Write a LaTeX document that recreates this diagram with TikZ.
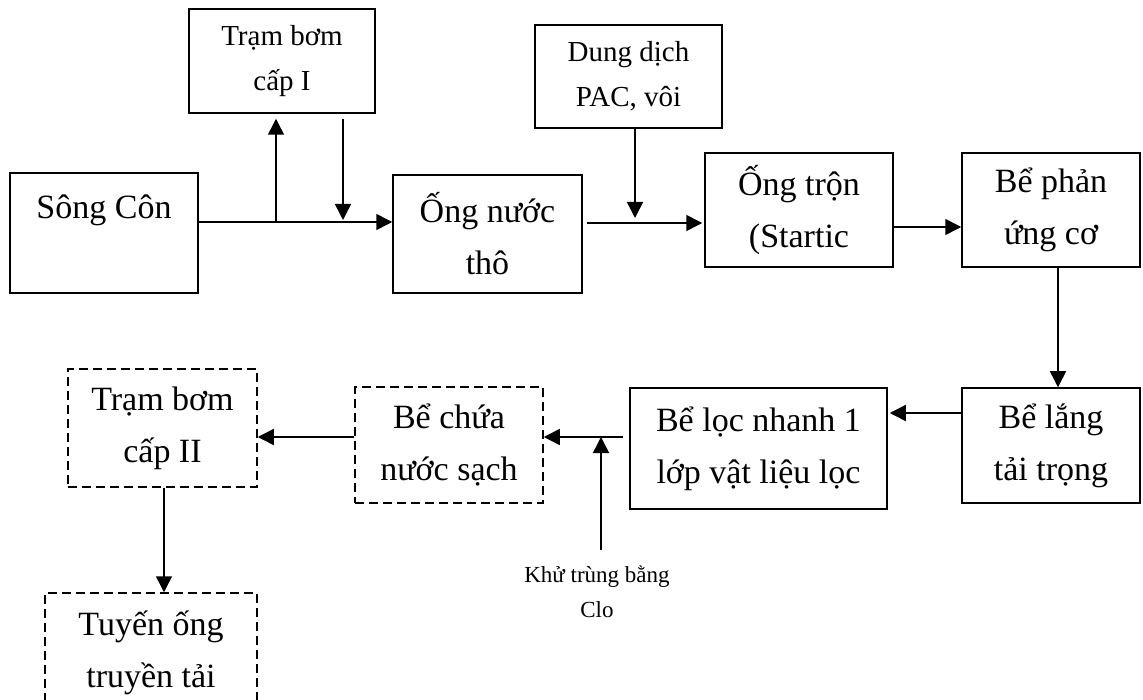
\documentclass[tikz,border=0pt]{standalone}
\usepackage{fontspec}
\setmainfont{Liberation Serif}
\usetikzlibrary{arrows.meta,calc}

\begin{document}
\begin{tikzpicture}[x=1pt,y=-1pt]
  \tikzset{block/.style = {draw, line width=1.5pt, inner sep=0pt, align=center, font=\fontsize{34}{52}\selectfont}}
  \tikzset{small/.style = {font=\fontsize{29}{45}\selectfont}}
  \tikzset{dblock/.style = {block, dash pattern=on 9pt off 5pt}}
  \tikzset{edge/.style = {line width=1.5pt, -{Triangle[length=16pt,width=16pt]}}}

  \clip (0,0) rectangle (1143,700);
  \useasboundingbox (0,0) rectangle (1143,700);

  % blocks
  \node[block, minimum width=188pt, minimum height=120pt] (song) at (104,233) {Sông Côn\\ \mbox{}};
  \node[block, small, minimum width=186pt, minimum height=104pt] (tram1) at (282,61) {Trạm bơm\\cấp I};
  \node[block, minimum width=189pt, minimum height=118pt] (ongtho) at (487.5,234) {Ống nước\\thô};
  \node[block, small, minimum width=187pt, minimum height=103pt] (pac) at (628.5,76.5) {Dung dịch\\PAC, vôi};
  \node[block, minimum width=188pt, minimum height=114pt] (ongtron) at (799,210) {Ống trộn\\(Startic};
  \node[block, minimum width=178pt, minimum height=114pt] (phanung) at (1051,210) {Bể phản\\ứng cơ};
  \node[block, minimum width=178pt, minimum height=115pt] (lang) at (1051,445.5) {Bể lắng\\tải trọng};
  \node[block, minimum width=257pt, minimum height=121pt] (loc) at (758.5,448.5) {Bể lọc nhanh 1\\lớp vật liệu lọc};
  \node[dblock, minimum width=188pt, minimum height=116pt] (chua) at (449,445) {Bể chứa\\nước sạch};
  \node[dblock, minimum width=189pt, minimum height=118pt] (tram2) at (162.5,428) {Trạm bơm\\cấp II};
  \node[dblock, minimum width=212pt, minimum height=120pt] (tuyen) at (151,653) {Tuyến ống\\truyền tải};
  \node[align=center, font=\fontsize{23}{35}\selectfont] (clo) at (597,592) {Khử trùng bằng\\Clo};

  % junctions
  \coordinate (j1) at (276,222);
  \coordinate (j2) at (343,222);
  \coordinate (j3) at (635,223);
  \coordinate (j4) at (930,227);
  \coordinate (j5) at (1058,330);
  \coordinate (j6) at (925,413);
  \coordinate (j7) at (601,437);
  \coordinate (j8) at (164,540);

  % edges
  \draw[edge] (song.east |- j1) -- (ongtho.west |- j1);
  \draw[edge, shorten >=5pt] (j1) -- (j1 |- tram1.south);
  \draw[edge, shorten <=5pt, shorten >=2pt] (j2 |- tram1.south) -- (j2);
  \draw[edge, shorten <=4pt, shorten >=2pt] (ongtho.east |- j3) -- (ongtron.west |- j3);
  \draw[edge, shorten >=5pt] (pac.south -| j3) -- (j3);
  \draw[edge] (ongtron.east |- j4) -- (phanung.west |- j4);
  \draw[edge] (phanung.south -| j5) -- (lang.north -| j5);
  \draw[edge, shorten >=2pt] (lang.west |- j6) -- (loc.east |- j6);
  \draw[edge, shorten <=6pt] (loc.west |- j7) -- (chua.east |- j7);
  \draw[edge, shorten <=13pt] (clo.north -| j7) -- (j7);
  \draw[edge] (chua.west |- j7) -- (tram2.east |- j7);
  \draw[edge] (tram2.south -| j8) -- (tuyen.north -| j8);

\end{tikzpicture}
\end{document}
